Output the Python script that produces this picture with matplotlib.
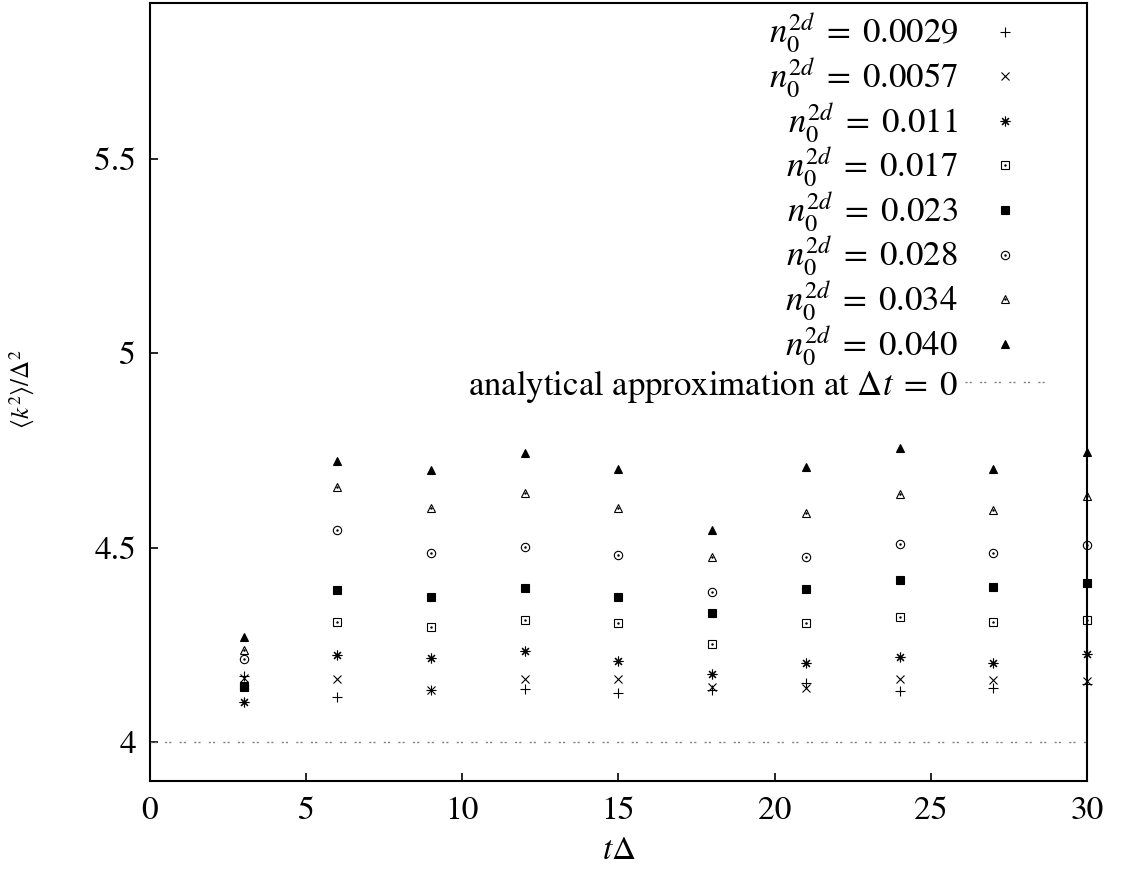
import numpy as np
import matplotlib
matplotlib.use("Agg")
import matplotlib.pyplot as plt
from matplotlib.legend_handler import HandlerTuple

plt.rcParams['font.family'] = ['STIXGeneral', 'DejaVu Serif']
plt.rcParams['mathtext.fontset'] = 'stix'

# data
t = [3, 6, 9, 12, 15, 18, 21, 24, 27, 30]
densities = ['0.0029', '0.0057', '0.011', '0.017', '0.023', '0.028', '0.034', '0.040']
k2_0029 = [4.169, 4.115, 4.133, 4.136, 4.125, 4.135, 4.151, 4.131, 4.140, 4.149]
k2_0057 = [4.165, 4.162, 4.133, 4.161, 4.161, 4.142, 4.139, 4.161, 4.159, 4.156]
k2_011 = [4.103, 4.223, 4.215, 4.235, 4.208, 4.174, 4.203, 4.218, 4.203, 4.226]
k2_017 = [4.145, 4.308, 4.295, 4.313, 4.305, 4.251, 4.307, 4.321, 4.310, 4.315]
k2_023 = [4.141, 4.390, 4.372, 4.397, 4.374, 4.333, 4.394, 4.417, 4.398, 4.410]
k2_028 = [4.213, 4.546, 4.487, 4.502, 4.480, 4.385, 4.475, 4.510, 4.486, 4.507]
k2_034 = [4.238, 4.656, 4.603, 4.641, 4.603, 4.477, 4.588, 4.638, 4.597, 4.633]
k2_040 = [4.269, 4.723, 4.700, 4.744, 4.703, 4.546, 4.708, 4.757, 4.703, 4.746]
approx = 4.0

series = [k2_0029, k2_0057, k2_011, k2_017, k2_023, k2_028, k2_034, k2_040]
# marker, size, filled, centre dot
styles = [('+', 7, True, False),
          ('x', 6, True, False),
          ((8, 2, 0), 7, True, False),
          ('s', 5.5, False, True),
          ('s', 6, True, False),
          ('o', 6, False, True),
          ('^', 5.5, False, True),
          ('^', 5.5, True, False)]

fig = plt.figure(figsize=(11.22, 8.71), dpi=100)
ax = fig.add_axes([0.1337, 0.1033, 0.835, 0.8933])

handles = []
labels = []
for vals, dens, (m, ms, filled, dot) in zip(series, densities, styles):
    h, = ax.plot(t, vals, linestyle='none', marker=m, markersize=ms,
                 markerfacecolor='black' if filled else 'none',
                 markeredgecolor='black', markeredgewidth=0.8, clip_on=False)
    if dot:
        d, = ax.plot(t, vals, linestyle='none', marker='.', markersize=1.5,
                     color='black', clip_on=False)
        handles.append((h, d))
    else:
        handles.append(h)
    labels.append(r'$n_0^{2d}\;=\;%s$' % dens)

ln = ax.axhline(approx, color='#808080', linewidth=1.0, dashes=(1.5, 1.5, 1.5, 6))
handles.append(ln)
labels.append(r'analytical approximation at $\Delta t\;=\;0$')

ax.set_xlim(0, 30)
ax.set_ylim(3.9, 5.9)
ax.set_xticks([0, 5, 10, 15, 20, 25, 30])
ax.set_yticks([4, 4.5, 5, 5.5])
ax.set_yticklabels(['4', '4.5', '5', '5.5'])
ax.tick_params(direction='in', length=6, width=1.2, labelsize=24, pad=10)
ax.tick_params(axis='x', pad=11)
for s in ax.spines.values():
    s.set_linewidth(1.5)

ax.set_xlabel(r'$t\Delta$', fontsize=24, labelpad=8)
ax.set_ylabel(r'$\langle k^2\rangle/\Delta^2$', fontsize=18)
ax.yaxis.set_label_coords(-0.121, 0.504)

leg = ax.legend(handles, labels, loc='upper right', frameon=False,
                markerfirst=False, fontsize=25, handlelength=2.3,
                handletextpad=0.2, labelspacing=0.0, borderpad=0,
                bbox_to_anchor=(0.955, 0.99), borderaxespad=0,
                handler_map={tuple: HandlerTuple(ndivide=1)})

fig.savefig('out.png', dpi=100)
